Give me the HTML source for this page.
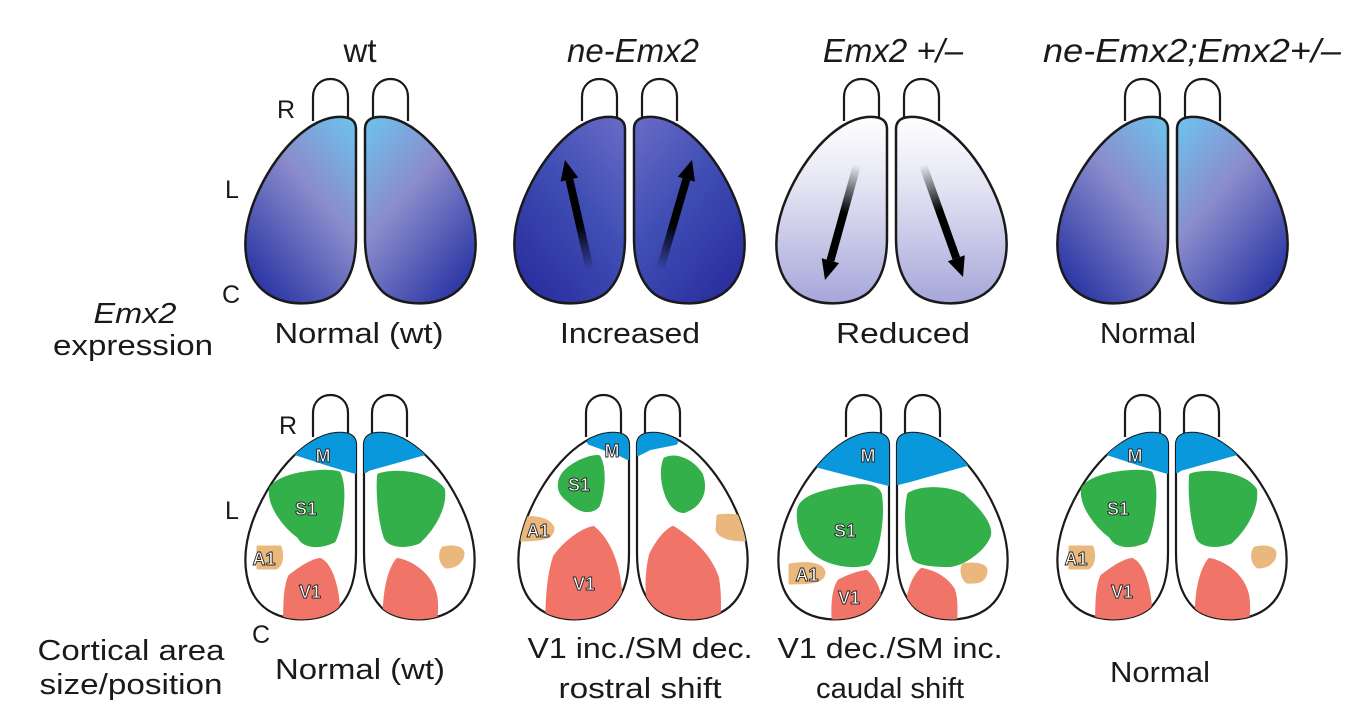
<!DOCTYPE html>
<html><head><meta charset="utf-8"><style>
html,body{margin:0;padding:0;background:#fff;}
svg{display:block;}
text{font-family:"Liberation Sans",Arial,sans-serif;fill:#1a1a1a;}
.it{font-style:italic;}
.lab{font-size:18px;fill:#fff;stroke:#222;stroke-width:0.9;font-weight:bold;}
</style></head><body>
<svg width="1350" height="724" viewBox="0 0 1350 724" xmlns="http://www.w3.org/2000/svg">
<defs>
<path id="hem" d="M-2,12 C-2,2 -10,-1 -22,0 C-55,3 -90,45 -106,90 C-118,125 -115,165 -85,180 C-65,190 -35,188 -20,175 C-5,160 -2,140 -2,120 Z"/>
<path id="bulb" d="M-45,4 L-45,-20 C-45,-44 -10,-44 -10,-20 L-10,2" fill="none" stroke="#1a1a1a" stroke-width="2.2"/>
<clipPath id="c1"><use href="#hem" transform="translate(358,433)"/><use href="#hem" transform="translate(362,433) scale(-1,1)"/></clipPath>
<clipPath id="c2"><use href="#hem" transform="translate(631,433)"/><use href="#hem" transform="translate(635,433) scale(-1,1)"/></clipPath>
<clipPath id="c3"><use href="#hem" transform="translate(891,433)"/><use href="#hem" transform="translate(895,433) scale(-1,1)"/></clipPath>
<linearGradient id="gwt" x1="1" y1="0" x2="0.3" y2="1">
<stop offset="0" stop-color="#6cc4ee"/><stop offset="0.45" stop-color="#8b8ccc"/><stop offset="1" stop-color="#2f3aa6"/></linearGradient>
<linearGradient id="gne" x1="1" y1="0" x2="0.3" y2="1">
<stop offset="0" stop-color="#6a6cc6"/><stop offset="0.5" stop-color="#3f4eb4"/><stop offset="1" stop-color="#2c30a0"/></linearGradient>
<linearGradient id="ghe" x1="0.5" y1="0" x2="0.5" y2="1">
<stop offset="0" stop-color="#ffffff"/><stop offset="0.35" stop-color="#e6e6f4"/><stop offset="1" stop-color="#a6a6da"/></linearGradient>
<linearGradient id="a1" gradientUnits="userSpaceOnUse" x1="590" y1="270" x2="569" y2="180"><stop offset="0" stop-color="#000" stop-opacity="0"/><stop offset="0.5" stop-color="#000"/></linearGradient>
<linearGradient id="a2" gradientUnits="userSpaceOnUse" x1="660" y1="270" x2="686" y2="179"><stop offset="0" stop-color="#000" stop-opacity="0"/><stop offset="0.5" stop-color="#000"/></linearGradient>
<linearGradient id="a3" gradientUnits="userSpaceOnUse" x1="857" y1="165" x2="830" y2="261"><stop offset="0" stop-color="#000" stop-opacity="0"/><stop offset="0.5" stop-color="#000"/></linearGradient>
<linearGradient id="a4" gradientUnits="userSpaceOnUse" x1="923" y1="165" x2="956" y2="258"><stop offset="0" stop-color="#000" stop-opacity="0"/><stop offset="0.5" stop-color="#000"/></linearGradient>
</defs>

<!-- titles -->
<text x="360" y="62" font-size="33" text-anchor="middle">wt</text>
<text class="it" x="633" y="62" font-size="33" text-anchor="middle">ne-Emx2</text>
<text class="it" x="893" y="62" font-size="33" text-anchor="middle">Emx2 +/–</text>
<text class="it" x="1192" y="62" font-size="33" text-anchor="middle" textLength="298" lengthAdjust="spacingAndGlyphs">ne-Emx2;Emx2+/–</text>

<!-- top row brains -->
<g stroke="#1a1a1a" stroke-width="2.5">
<g transform="translate(358,117)"><use href="#bulb"/><use href="#hem" fill="url(#gwt)"/></g>
<g transform="translate(363,117) scale(-1,1)"><use href="#bulb"/><use href="#hem" fill="url(#gwt)"/></g>
<g transform="translate(627,117)"><use href="#bulb"/><use href="#hem" fill="url(#gne)"/></g>
<g transform="translate(632,117) scale(-1,1)"><use href="#bulb"/><use href="#hem" fill="url(#gne)"/></g>
<g transform="translate(889,117)"><use href="#bulb"/><use href="#hem" fill="url(#ghe)"/></g>
<g transform="translate(894,117) scale(-1,1)"><use href="#bulb"/><use href="#hem" fill="url(#ghe)"/></g>
<g transform="translate(1170,117)"><use href="#bulb"/><use href="#hem" fill="url(#gwt)"/></g>
<g transform="translate(1175,117) scale(-1,1)"><use href="#bulb"/><use href="#hem" fill="url(#gwt)"/></g>
</g>
<!-- arrows -->
<line x1="590" y1="270" x2="569.4" y2="179.5" stroke="url(#a1)" stroke-width="8"/>
<polygon points="565,160 578.2,177.5 560.6,181.5" fill="#000"/>
<line x1="660" y1="270" x2="686.4" y2="179.2" stroke="url(#a2)" stroke-width="8"/>
<polygon points="692,160 695,181.7 677.8,176.7" fill="#000"/>
<line x1="857" y1="165" x2="830.4" y2="260.7" stroke="url(#a3)" stroke-width="8"/>
<polygon points="825,280 839.1,263.1 821.7,258.3" fill="#000"/>
<line x1="923" y1="165" x2="956.3" y2="258.2" stroke="url(#a4)" stroke-width="8"/>
<polygon points="963,277 964.8,255.2 947.8,261.2" fill="#000"/>

<text x="277" y="118" font-size="25">R</text>
<text x="225" y="198" font-size="25">L</text>
<text x="222" y="303" font-size="25">C</text>

<text class="it" x="135" y="323" font-size="29" text-anchor="middle" textLength="83" lengthAdjust="spacingAndGlyphs">Emx2</text>
<text x="133" y="355" font-size="29" text-anchor="middle" textLength="160" lengthAdjust="spacingAndGlyphs">expression</text>
<text x="359" y="343" font-size="29" text-anchor="middle" textLength="169" lengthAdjust="spacingAndGlyphs">Normal (wt)</text>
<text x="630" y="343" font-size="29" text-anchor="middle" textLength="140" lengthAdjust="spacingAndGlyphs">Increased</text>
<text x="903" y="343" font-size="29" text-anchor="middle" textLength="134" lengthAdjust="spacingAndGlyphs">Reduced</text>
<text x="1148" y="343" font-size="29" text-anchor="middle" textLength="96" lengthAdjust="spacingAndGlyphs">Normal</text>

<!-- bottom row brains -->
<g fill="#fff" stroke="#1a1a1a" stroke-width="2.2">
<g transform="translate(358,433)"><use href="#bulb"/><use href="#hem"/></g>
<g transform="translate(362,433) scale(-1,1)"><use href="#bulb"/><use href="#hem"/></g>
<g transform="translate(631,433)"><use href="#bulb"/><use href="#hem"/></g>
<g transform="translate(635,433) scale(-1,1)"><use href="#bulb"/><use href="#hem"/></g>
<g transform="translate(891,433)"><use href="#bulb"/><use href="#hem"/></g>
<g transform="translate(895,433) scale(-1,1)"><use href="#bulb"/><use href="#hem"/></g>
<g transform="translate(1170,433)"><use href="#bulb"/><use href="#hem"/></g>
<g transform="translate(1174,433) scale(-1,1)"><use href="#bulb"/><use href="#hem"/></g>
</g>

<!-- panel 1 areas (also reused for panel 4) -->
<g id="p1" stroke-linejoin="round" stroke-width="6">
<g clip-path="url(#c1)">
<polygon points="295,452 340,430 356,435 356,471 332,464" fill="#0a98dc" stroke="#0a98dc"/>
<polygon points="365,435 379,430 425,452 368,468 365,470" fill="#0a98dc" stroke="#0a98dc"/>
<path d="M272,489 C280,476 320,470 338,474 C345,490 340,525 333,540 C320,546 305,546 300,536 C285,525 270,505 272,489 Z" fill="#34b04a" stroke="#34b04a"/>
<path d="M380,476 C395,471 430,474 442,490 C444,505 435,525 418,541 C405,546 388,545 386,535 C380,515 379,490 380,476 Z" fill="#34b04a" stroke="#34b04a"/>
<path d="M258,547 L280,547 C283,555 282,565 276,568 L258,568 Z" fill="#eab87c" stroke="#eab87c" stroke-width="3"/>
<path d="M443,548 C452,546 462,547 463,553 C463,562 455,567 446,567 C440,563 439,553 443,548 Z" fill="#eab87c" stroke="#eab87c" stroke-width="3"/>
<path d="M291,577 C300,570 312,562 320,561 C330,566 337,590 337,612 L337,640 L286,640 C286,605 286,588 291,577 Z" fill="#f07468" stroke="#f07468"/>
<path d="M398,561 C415,565 430,578 434,595 C436,605 435,614 433,640 L386,640 C384,600 388,575 398,561 Z" fill="#f07468" stroke="#f07468"/>
</g>
<text class="lab" x="323" y="462" text-anchor="middle">M</text>
<text class="lab" x="306" y="515" text-anchor="middle">S1</text>
<text class="lab" x="264" y="565" text-anchor="middle">A1</text>
<text class="lab" x="310" y="598" text-anchor="middle">V1</text>
</g>
<use href="#p1" transform="translate(812,0)"/>

<!-- panel 2 areas -->
<g stroke-linejoin="round" stroke-width="6">
<g clip-path="url(#c2)">
<polygon points="590,442 610,430 628,435 628,457 620,453" fill="#0a98dc" stroke="#0a98dc"/>
<polygon points="638,453 638,435 657,432 675,442 650,447" fill="#0a98dc" stroke="#0a98dc"/>
<path d="M561,483 C562,470 585,458 598,458 C604,470 602,492 597,505 C590,512 580,510 570,500 C563,495 560,490 561,483 Z" fill="#34b04a" stroke="#34b04a"/>
<path d="M666,460 C675,456 690,460 700,475 C706,492 698,505 684,510 C676,510 670,502 667,492 C663,480 663,468 666,460 Z" fill="#34b04a" stroke="#34b04a"/>
<path d="M520,518 C538,516 550,520 553,528 C553,537 545,540 520,540 Z" fill="#eab87c" stroke="#eab87c" stroke-width="3"/>
<path d="M718,516 C728,514 740,516 750,518 L750,540 C732,540 720,538 717,530 Z" fill="#eab87c" stroke="#eab87c" stroke-width="3"/>
<path d="M556,557 C565,545 580,532 593,529 C606,540 616,560 619,590 L620,640 L548,640 C548,595 550,575 556,557 Z" fill="#f07468" stroke="#f07468"/>
<path d="M673,529 C690,540 708,555 716,578 C719,595 718,610 717,640 L656,640 C648,600 646,580 652,555 C657,545 664,534 673,529 Z" fill="#f07468" stroke="#f07468"/>
</g>
<text class="lab" x="612" y="457" text-anchor="middle" font-size="16">M</text>
<text class="lab" x="579" y="491" text-anchor="middle">S1</text>
<text class="lab" x="538" y="537" text-anchor="middle">A1</text>
<text class="lab" x="584" y="590" text-anchor="middle">V1</text>
</g>

<!-- panel 3 areas -->
<g stroke-linejoin="round" stroke-width="6">
<g clip-path="url(#c3)">
<polygon points="815,464 842,438 863,428 889,430 889,483 877,480" fill="#0a98dc" stroke="#0a98dc"/>
<polygon points="898,482 898,430 920,428 940,436 970,462 910,479" fill="#0a98dc" stroke="#0a98dc"/>
<path d="M800,510 C802,500 815,495 840,490 C860,486 876,485 879,495 C882,515 878,548 868,562 C855,566 838,564 825,558 C808,550 798,530 800,510 Z" fill="#34b04a" stroke="#34b04a"/>
<path d="M910,495 C925,487 950,490 962,496 C978,510 990,525 988,535 C983,548 965,562 950,564 C935,564 920,563 915,558 C908,540 906,515 910,495 Z" fill="#34b04a" stroke="#34b04a"/>
<path d="M790,565 C808,562 822,564 824,572 C824,580 818,583 790,583 Z" fill="#eab87c" stroke="#eab87c" stroke-width="3"/>
<path d="M963,565 C972,563 985,564 986,570 C986,580 980,583 967,582 C962,578 961,570 963,565 Z" fill="#eab87c" stroke="#eab87c" stroke-width="3"/>
<path d="M840,582 C848,578 858,574 866,573 C873,580 880,592 878,605 L878,640 L836,640 C833,608 834,592 840,582 Z" fill="#f07468" stroke="#f07468"/>
<path d="M922,571 C932,573 944,578 952,590 C956,602 954,612 954,640 L918,640 C912,608 908,598 911,592 C913,584 917,576 922,571 Z" fill="#f07468" stroke="#f07468"/>
</g>
<text class="lab" x="868" y="462" text-anchor="middle">M</text>
<text class="lab" x="845" y="537" text-anchor="middle">S1</text>
<text class="lab" x="807" y="581" text-anchor="middle">A1</text>
<text class="lab" x="849" y="604" text-anchor="middle">V1</text>
</g>

<text x="279" y="434" font-size="25">R</text>
<text x="225" y="519" font-size="25">L</text>
<text x="252" y="643" font-size="25">C</text>

<text x="131" y="660" font-size="29" text-anchor="middle" textLength="187" lengthAdjust="spacingAndGlyphs">Cortical area</text>
<text x="131" y="694" font-size="29" text-anchor="middle" textLength="183" lengthAdjust="spacingAndGlyphs">size/position</text>
<text x="360" y="679" font-size="29" text-anchor="middle" textLength="170" lengthAdjust="spacingAndGlyphs">Normal (wt)</text>
<text x="640" y="658" font-size="29" text-anchor="middle" textLength="225" lengthAdjust="spacingAndGlyphs">V1 inc./SM dec.</text>
<text x="640" y="698" font-size="29" text-anchor="middle" textLength="163" lengthAdjust="spacingAndGlyphs">rostral shift</text>
<text x="890" y="658" font-size="29" text-anchor="middle" textLength="225" lengthAdjust="spacingAndGlyphs">V1 dec./SM inc.</text>
<text x="890" y="698" font-size="29" text-anchor="middle" textLength="148" lengthAdjust="spacingAndGlyphs">caudal shift</text>
<text x="1160" y="682" font-size="29" text-anchor="middle" textLength="100" lengthAdjust="spacingAndGlyphs">Normal</text>
</svg>
</body></html>
